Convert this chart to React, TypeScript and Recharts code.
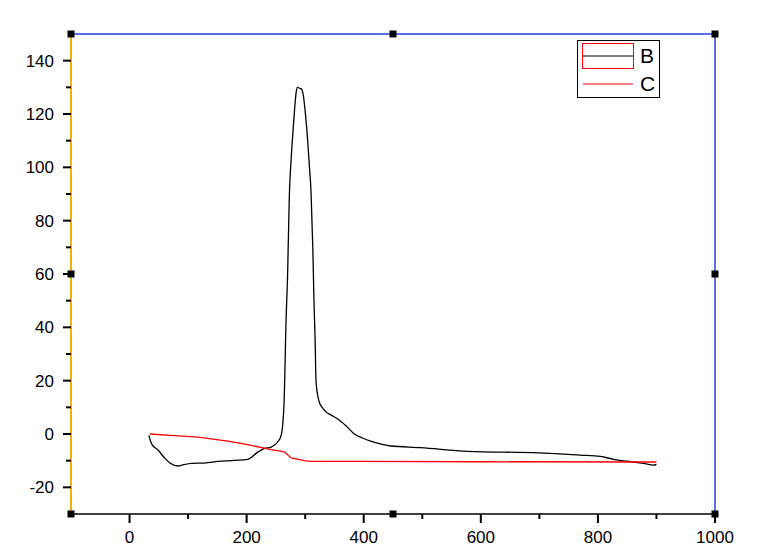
import { LineChart, Line, XAxis, YAxis, ReferenceLine, ReferenceDot } from "recharts";

// B (black) – x, y
const bX = [33, 37.5, 49, 60, 69, 83, 89, 106, 128, 151, 179, 202, 219, 230, 242, 253, 259, 262, 264, 265, 267, 270, 273, 276, 279, 282, 284.5, 287, 290, 293, 296, 300, 304, 307, 310, 313, 315, 317, 318.5, 321, 324, 330, 336, 345, 355, 370, 384, 398, 412, 430, 446, 497, 577, 700, 770, 804, 827, 849, 878, 895, 900];
const bY = [-0.5, -3.6, -6.1, -9, -10.9, -12, -11.7, -11, -10.9, -10.3, -9.9, -9.5, -6.8, -5.5, -4.9, -3, -0.5, 4.5, 12, 20, 40, 60, 90, 103, 113, 122, 128, 130, 129.7, 129.5, 128, 121, 110.7, 101, 90.7, 70, 50, 35, 20, 15, 12, 9.7, 8.2, 7, 5.7, 3, 0, -1.5, -2.7, -3.8, -4.5, -5.1, -6.5, -7.1, -7.9, -8.4, -9.5, -10.2, -11, -11.7, -11.4];

// C (red)
const cX = [35, 70, 117, 168, 202, 230, 242, 255, 265, 276, 299, 310, 400, 600, 900];
const cY = [0, -0.5, -1.2, -2.7, -4, -5.3, -5.9, -6.3, -6.8, -9, -10, -10.3, -10.3, -10.4, -10.5];

const xTicks = [0, 100, 200, 300, 400, 500, 600, 700, 800, 900, 1000];
const yTicks = [-20, -10, 0, 10, 20, 30, 40, 50, 60, 70, 80, 90, 100, 110, 120, 130, 140];
const handles = [
  [-100, 150], [450, 150], [1000, 150],
  [-100, 60], [1000, 60],
  [-100, -30], [450, -30], [1000, -30],
];

const seriesB = bX.map((x, i) => ({ x, y: bY[i] }));
const seriesC = cX.map((x, i) => ({ x, y: cY[i] }));

const font = "'Liberation Sans', Arial, sans-serif";

const XTick = (props: any) => {
  const { x, y, payload } = props;
  const major = payload.value % 200 === 0;
  return (
    <g>
      <line x1={x} x2={x} y1={y} y2={y + (major ? 9 : 5)} stroke="#000" strokeWidth={2} />
      {major && (
        <text x={x} y={y + 29} textAnchor="middle" fontSize={17} fontFamily={font} fill="#000">
          {payload.value}
        </text>
      )}
    </g>
  );
};

const YTick = (props: any) => {
  const { x, y, payload } = props;
  const major = payload.value % 20 === 0;
  return (
    <g>
      <line x1={x} x2={x - (major ? 8 : 5)} y1={y} y2={y} stroke="#000" strokeWidth={2} />
      {major && (
        <text x={x - 17} y={y + 6} textAnchor="end" fontSize={17} fontFamily={font} fill="#000">
          {payload.value}
        </text>
      )}
    </g>
  );
};

const Handle = (props: any) => {
  const { cx, cy } = props;
  return <rect x={cx - 3.5} y={cy - 3.5} width={7} height={7} fill="#000" />;
};

const LegendBox = () => (
  <svg width={84} height={60} style={{ position: "absolute", left: 569, top: 32 }}>
    <rect x={0.5} y={0.5} width={82} height={57} fill="#fff" stroke="#000" />
    <rect x={5.5} y={3.5} width={51} height={25} fill="none" stroke="#ff0000" />
    <line x1={6} x2={56} y1={16} y2={16} stroke="#000" />
    <text x={63} y={23} fontSize={21} fontFamily={font} fill="#000">B</text>
    <line x1={6} x2={56} y1={44} y2={44} stroke="#ff0000" />
    <text x={63} y={51} fontSize={21} fontFamily={font} fill="#000">C</text>
  </svg>
);

export default function App() {
  return (
    <div style={{ position: "relative", width: 760, height: 540 }}>
      <LineChart width={760} height={540} margin={{ top: 26, right: 53, left: 0, bottom: 4 }}>
        <XAxis
          dataKey="x"
          type="number"
          domain={[-100, 1000]}
          ticks={xTicks}
          interval={0}
          allowDataOverflow
          tickSize={0}
          tickMargin={0}
          tick={<XTick />}
          height={30}
          stroke="#000"
          strokeWidth={1.5}
        />
        <YAxis
          dataKey="y"
          type="number"
          domain={[-30, 150]}
          ticks={yTicks}
          interval={0}
          allowDataOverflow
          tickSize={0}
          tickMargin={0}
          tick={<YTick />}
          width={63}
          stroke="#f0b400"
          strokeWidth={2}
        />
        <ReferenceLine y={150} stroke="#1f3fe0" strokeWidth={1.5} ifOverflow="visible" />
        <ReferenceLine x={1000} stroke="#1f3fe0" strokeWidth={1.5} ifOverflow="visible" />
        <Line data={seriesB} dataKey="y" name="B" type="monotoneX" stroke="#000" strokeWidth={1.3} dot={false} isAnimationActive={false} />
        <Line data={seriesC} dataKey="y" name="C" type="linear" stroke="#ff0000" strokeWidth={1.3} dot={false} isAnimationActive={false} />
        {handles.map(([hx, hy]) => (
          <ReferenceDot key={`${hx}_${hy}`} x={hx} y={hy} r={4} ifOverflow="visible" shape={<Handle />} />
        ))}
      </LineChart>
      <LegendBox />
    </div>
  );
}
